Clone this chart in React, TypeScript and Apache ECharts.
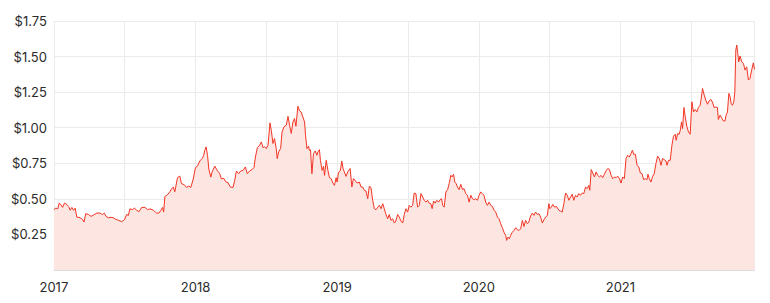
import React, { useEffect, useRef } from "react";
import * as echarts from "echarts";

// Time as years elapsed since 2017-01-01
const timeOffset: number[] = [
  0.000, 0.014, 0.028, 0.037, 0.049, 0.061, 0.075, 0.092, 0.104, 0.115, 0.127, 0.139, 0.150, 0.162, 0.185, 0.202, 0.213, 0.225, 0.244, 0.263,
  0.280, 0.303, 0.326, 0.343, 0.357, 0.368, 0.385, 0.404, 0.420, 0.437, 0.456, 0.479, 0.498, 0.514, 0.526, 0.537, 0.554, 0.568, 0.585, 0.601,
  0.620, 0.643, 0.662, 0.678, 0.702, 0.725, 0.742, 0.756, 0.768, 0.775, 0.784, 0.803, 0.819, 0.831, 0.843, 0.854, 0.873, 0.889, 0.901, 0.920,
  0.937, 0.953, 0.967, 0.984, 1.000, 1.014, 1.030, 1.047, 1.058, 1.065, 1.075, 1.085, 1.094, 1.108, 1.118, 1.136, 1.153, 1.171, 1.183, 1.199,
  1.213, 1.230, 1.246, 1.265, 1.277, 1.289, 1.305, 1.319, 1.336, 1.352, 1.366, 1.382, 1.399, 1.413, 1.423, 1.437, 1.453, 1.465, 1.477, 1.488,
  1.500, 1.512, 1.526, 1.535, 1.547, 1.558, 1.570, 1.577, 1.587, 1.601, 1.611, 1.625, 1.641, 1.653, 1.664, 1.676, 1.688, 1.699, 1.709, 1.723,
  1.735, 1.746, 1.758, 1.770, 1.777, 1.787, 1.798, 1.805, 1.812, 1.822, 1.833, 1.845, 1.857, 1.864, 1.875, 1.882, 1.894, 1.904, 1.911, 1.923,
  1.935, 1.946, 1.958, 1.970, 1.981, 1.993, 2.000, 2.009, 2.023, 2.033, 2.042, 2.051, 2.063, 2.075, 2.092, 2.104, 2.115, 2.127, 2.141, 2.157,
  2.169, 2.181, 2.192, 2.204, 2.216, 2.227, 2.239, 2.251, 2.263, 2.275, 2.287, 2.298, 2.310, 2.322, 2.333, 2.345, 2.357, 2.368, 2.380, 2.392,
  2.404, 2.415, 2.427, 2.439, 2.451, 2.463, 2.474, 2.486, 2.498, 2.509, 2.521, 2.533, 2.544, 2.556, 2.568, 2.580, 2.592, 2.604, 2.615, 2.627,
  2.639, 2.650, 2.662, 2.671, 2.681, 2.692, 2.704, 2.716, 2.727, 2.737, 2.746, 2.756, 2.768, 2.780, 2.791, 2.803, 2.812, 2.822, 2.831, 2.840,
  2.850, 2.861, 2.873, 2.885, 2.896, 2.908, 2.920, 2.932, 2.944, 2.956, 2.967, 2.979, 2.991, 3.002, 3.014, 3.026, 3.037, 3.049, 3.061, 3.073,
  3.085, 3.096, 3.108, 3.120, 3.132, 3.143, 3.155, 3.167, 3.178, 3.190, 3.197, 3.206, 3.216, 3.225, 3.237, 3.249, 3.261, 3.273, 3.284, 3.296,
  3.308, 3.319, 3.331, 3.343, 3.354, 3.366, 3.378, 3.390, 3.401, 3.413, 3.425, 3.437, 3.449, 3.460, 3.472, 3.484, 3.495, 3.502, 3.512, 3.523,
  3.535, 3.549, 3.566, 3.577, 3.589, 3.601, 3.613, 3.625, 3.636, 3.648, 3.660, 3.671, 3.683, 3.695, 3.706, 3.718, 3.730, 3.742, 3.754, 3.766,
  3.777, 3.784, 3.794, 3.805, 3.817, 3.829, 3.840, 3.852, 3.864, 3.875, 3.887, 3.901, 3.911, 3.923, 3.935, 3.946, 3.958, 3.970, 3.981, 3.993,
  4.005, 4.016, 4.028, 4.040, 4.051, 4.063, 4.075, 4.085, 4.094, 4.106, 4.118, 4.130, 4.141, 4.153, 4.164, 4.176, 4.188, 4.195, 4.204, 4.216,
  4.228, 4.239, 4.251, 4.263, 4.275, 4.287, 4.298, 4.310, 4.322, 4.329, 4.340, 4.352, 4.364, 4.375, 4.387, 4.394, 4.404, 4.415, 4.423, 4.432,
  4.439, 4.449, 4.458, 4.470, 4.481, 4.493, 4.505, 4.516, 4.528, 4.540, 4.551, 4.563, 4.570, 4.580, 4.592, 4.603, 4.615, 4.627, 4.639, 4.650,
  4.662, 4.674, 4.685, 4.692, 4.704, 4.717, 4.727, 4.739, 4.746, 4.756, 4.766, 4.775, 4.782, 4.791, 4.801, 4.808, 4.815, 4.822, 4.829, 4.836,
  4.845, 4.857, 4.869, 4.880, 4.892, 4.904, 4.915, 4.927, 4.939, 4.947,
];

// Share price in dollars
const price: number[] = [
  0.424, 0.435, 0.43, 0.47, 0.46, 0.44, 0.47, 0.46, 0.447, 0.42, 0.44, 0.42, 0.435, 0.372, 0.367, 0.356, 0.337, 0.396, 0.39, 0.377,
  0.386, 0.40, 0.40, 0.39, 0.40, 0.377, 0.367, 0.37, 0.367, 0.356, 0.349, 0.34, 0.353, 0.39, 0.384, 0.43, 0.424, 0.435, 0.42, 0.41,
  0.44, 0.44, 0.424, 0.43, 0.42, 0.40, 0.40, 0.42, 0.44, 0.407, 0.517, 0.53, 0.55, 0.57, 0.583, 0.55, 0.65, 0.66, 0.607, 0.60,
  0.58, 0.59, 0.58, 0.64, 0.72, 0.73, 0.766, 0.783, 0.806, 0.84, 0.865, 0.806, 0.71, 0.653, 0.69, 0.73, 0.70, 0.677, 0.64, 0.645,
  0.62, 0.613, 0.583, 0.58, 0.63, 0.696, 0.677, 0.696, 0.70, 0.724, 0.677, 0.696, 0.705, 0.72, 0.794, 0.86, 0.877, 0.90, 0.86, 0.866,
  0.853, 0.877, 1.034, 0.982, 0.889, 0.924, 0.853, 0.783, 0.83, 0.853, 0.97, 1.006, 1.018, 1.08, 1.018, 0.96, 1.04, 1.065, 1.01, 1.151,
  1.118, 1.11, 1.076, 1.04, 0.947, 0.853, 0.87, 0.84, 0.845, 0.677, 0.818, 0.837, 0.806, 0.83, 0.846, 0.771, 0.70, 0.729, 0.665, 0.771,
  0.70, 0.649, 0.642, 0.611, 0.595, 0.649, 0.618, 0.682, 0.70, 0.766, 0.713, 0.689, 0.658, 0.689, 0.713, 0.583, 0.642, 0.63, 0.611, 0.618,
  0.583, 0.583, 0.56, 0.555, 0.501, 0.588, 0.58, 0.49, 0.431, 0.424, 0.442, 0.454, 0.431, 0.466, 0.431, 0.39, 0.36, 0.39, 0.349, 0.36,
  0.33, 0.344, 0.39, 0.372, 0.344, 0.33, 0.39, 0.431, 0.407, 0.454, 0.442, 0.454, 0.541, 0.537, 0.442, 0.454, 0.537, 0.513, 0.49, 0.477,
  0.49, 0.47, 0.465, 0.431, 0.485, 0.47, 0.49, 0.477, 0.494, 0.501, 0.454, 0.442, 0.548, 0.565, 0.607, 0.665, 0.654, 0.673, 0.618, 0.607,
  0.583, 0.565, 0.602, 0.565, 0.572, 0.537, 0.525, 0.477, 0.525, 0.501, 0.494, 0.501, 0.49, 0.525, 0.548, 0.537, 0.525, 0.477, 0.454, 0.477,
  0.454, 0.447, 0.42, 0.407, 0.372, 0.36, 0.325, 0.297, 0.266, 0.243, 0.208, 0.231, 0.22, 0.243, 0.266, 0.278, 0.297, 0.283, 0.278, 0.29,
  0.349, 0.306, 0.349, 0.325, 0.337, 0.38, 0.40, 0.384, 0.407, 0.391, 0.395, 0.372, 0.33, 0.353, 0.372, 0.384, 0.466, 0.431, 0.442, 0.461,
  0.442, 0.447, 0.419, 0.415, 0.407, 0.466, 0.541, 0.525, 0.49, 0.513, 0.532, 0.49, 0.525, 0.513, 0.537, 0.525, 0.541, 0.537, 0.583, 0.572,
  0.595, 0.56, 0.706, 0.682, 0.654, 0.689, 0.665, 0.654, 0.665, 0.649, 0.673, 0.70, 0.713, 0.706, 0.665, 0.642, 0.654, 0.649, 0.66, 0.642,
  0.611, 0.654, 0.642, 0.783, 0.806, 0.794, 0.818, 0.842, 0.813, 0.813, 0.736, 0.724, 0.682, 0.677, 0.635, 0.642, 0.635, 0.673, 0.642, 0.618,
  0.658, 0.677, 0.748, 0.80, 0.783, 0.736, 0.783, 0.776, 0.766, 0.736, 0.771, 0.771, 0.877, 0.94, 0.954, 0.912, 0.959, 0.954, 0.982, 1.041,
  0.994, 1.142, 1.076, 1.006, 0.97, 0.954, 1.182, 1.111, 1.128, 1.111, 1.142, 1.158, 1.199, 1.276, 1.229, 1.194, 1.165, 1.189, 1.199, 1.18,
  1.142, 1.145, 1.142, 1.058, 1.088, 1.065, 1.048, 1.048, 1.088, 1.111, 1.241, 1.217, 1.17, 1.158, 1.182, 1.252, 1.546, 1.581, 1.522, 1.463,
  1.504, 1.463, 1.452, 1.405, 1.428, 1.335, 1.346, 1.405, 1.456, 1.41,
];

const startYear = 2017;
const yTicks: number[] = [0.25, 0.5, 0.75, 1.0, 1.25, 1.5, 1.75];

export default function App() {
  const ref = useRef<HTMLDivElement>(null);
  useEffect(() => {
    if (!ref.current) return;
    const chart = echarts.init(ref.current, null, { renderer: "svg" });
    const data = timeOffset.map((t, i) => [startYear + t, price[i]]);
    const endX = startYear + timeOffset[timeOffset.length - 1];
    const font = "Inter, 'Noto Sans', sans-serif";
    chart.setOption({
      animation: false,
      grid: { left: 44, right: 7.5, top: 13, bottom: 25, containLabel: false },
      xAxis: {
        type: "value",
        min: startYear,
        max: endX,
        interval: 0.5,
        axisLine: { show: true, lineStyle: { color: "#dcdcdc", width: 1 } },
        axisTick: { show: false },
        splitLine: { show: true, lineStyle: { color: "#ebebeb", width: 1 } },
        axisLabel: {
          margin: 10,
          color: "#2b2b2b",
          fontSize: 13,
          fontFamily: font,
          showMaxLabel: false,
          formatter: (v: number) =>
            Math.abs(v - Math.round(v)) < 1e-6 ? String(Math.round(v)) : "",
        },
      },
      yAxis: {
        type: "value",
        min: 0,
        max: yTicks[yTicks.length - 1],
        interval: 0.25,
        axisLine: { show: false },
        axisTick: { show: false },
        splitLine: { show: true, lineStyle: { color: "#ebebeb", width: 1 } },
        axisLabel: {
          margin: 7,
          color: "#2b2b2b",
          fontSize: 13,
          fontFamily: font,
          formatter: (v: number) => (v === 0 ? "" : "$" + v.toFixed(2)),
        },
      },
      series: [
        {
          type: "line",
          data,
          showSymbol: false,
          symbol: "none",
          smooth: false,
          lineStyle: { color: "#f03524", width: 1 },
          itemStyle: { color: "#f03524" },
          areaStyle: { color: "#fde5e2", opacity: 1 },
        },
      ],
    });
    return () => chart.dispose();
  }, []);
  return <div ref={ref} style={{ width: 754, height: 287 }} />;
}
